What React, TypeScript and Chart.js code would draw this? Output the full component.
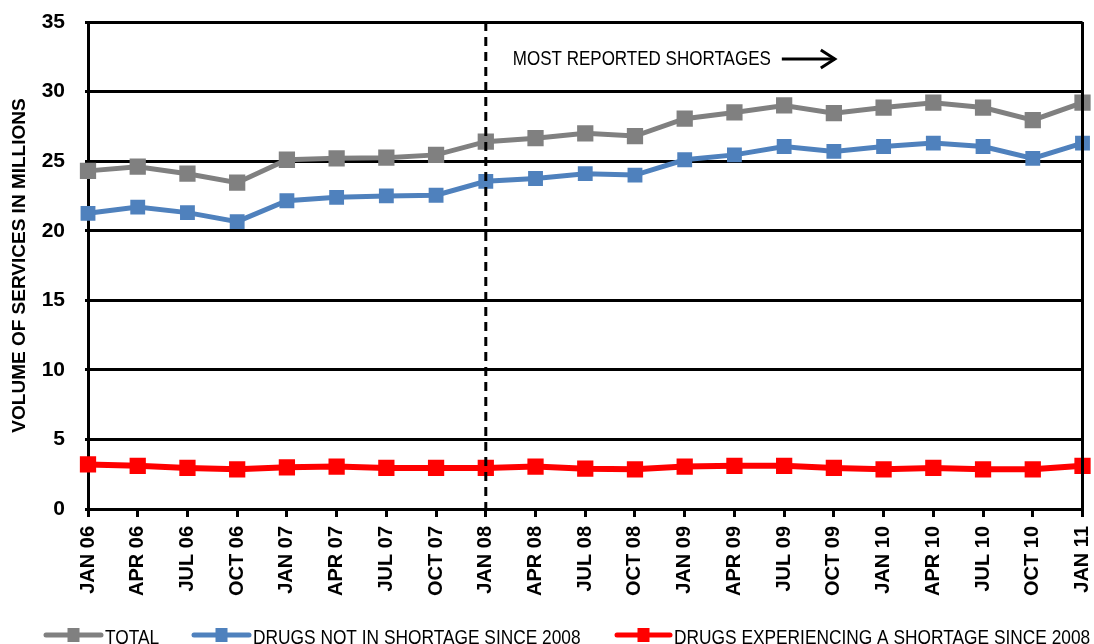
import React, { useEffect, useRef } from "react";
import { Chart, registerables } from "chart.js";

Chart.register(...registerables);

const categories = [
  "JAN 06", "APR 06", "JUL 06", "OCT 06",
  "JAN 07", "APR 07", "JUL 07", "OCT 07",
  "JAN 08", "APR 08", "JUL 08", "OCT 08",
  "JAN 09", "APR 09", "JUL 09", "OCT 09",
  "JAN 10", "APR 10", "JUL 10", "OCT 10",
  "JAN 11",
];

const totalValues = [
  24.3, 24.6, 24.1, 23.45,
  25.1, 25.2, 25.25, 25.45,
  26.4, 26.65, 27.0, 26.8,
  28.05, 28.5, 29.0, 28.45,
  28.85, 29.2, 28.85, 27.95,
  29.2,
];

const notShortageValues = [
  21.25, 21.7, 21.3, 20.65,
  22.15, 22.4, 22.5, 22.55,
  23.55, 23.75, 24.1, 24.0,
  25.1, 25.45, 26.05, 25.7,
  26.05, 26.3, 26.05, 25.2,
  26.3,
];

const shortageValues = [
  3.2, 3.1, 2.95, 2.85,
  3.0, 3.05, 2.95, 2.95,
  2.95, 3.05, 2.9, 2.85,
  3.05, 3.1, 3.1, 2.95,
  2.85, 2.95, 2.85, 2.85,
  3.1,
];

const yTicks = [0, 5, 10, 15, 20, 25, 30, 35];

const seriesNames = [
  "TOTAL",
  "DRUGS NOT IN SHORTAGE SINCE 2008",
  "DRUGS EXPERIENCING A SHORTAGE SINCE 2008",
];
const seriesColors = ["#808080", "#4f81bd", "#ff0000"];

const annotationText = "MOST REPORTED SHORTAGES";
const dividerCategory = "JAN 08";
const yTitle = "VOLUME OF SERVICES IN MILLIONS";

const SANS = "'Liberation Sans', Arial, sans-serif";

function narrowText(ctx: any, text: string, x: number, y: number, sx: number) {
  ctx.save();
  ctx.translate(x, y);
  ctx.scale(sx, 1);
  ctx.fillText(text, 0, 0);
  ctx.restore();
  return ctx.measureText(text).width * sx;
}

const overlayPlugin = {
  id: "overlay",
  afterDatasetsDraw(chart: any) {
    const { ctx, chartArea, scales } = chart;
    const x = scales.x.getPixelForValue(categories.indexOf(dividerCategory));
    ctx.save();
    ctx.strokeStyle = "#000";
    ctx.lineWidth = 3;
    ctx.setLineDash([]);
    ctx.beginPath();
    ctx.moveTo(chartArea.right, chartArea.top);
    ctx.lineTo(chartArea.right, chartArea.bottom);
    ctx.stroke();
    ctx.setLineDash([9, 6]);
    ctx.beginPath();
    ctx.moveTo(x, chartArea.top);
    ctx.lineTo(x, chartArea.bottom);
    ctx.stroke();
    ctx.setLineDash([]);
    ctx.fillStyle = "#000";
    ctx.font = `21px ${SANS}`;
    ctx.textBaseline = "middle";
    ctx.textAlign = "left";
    const tx = x + 27;
    const ty = chartArea.top + 37;
    const w = narrowText(ctx, annotationText, tx, ty, 0.81);
    const ax0 = tx + w + 11;
    const ax1 = ax0 + 53;
    ctx.lineWidth = 3;
    ctx.beginPath();
    ctx.moveTo(ax0, ty);
    ctx.lineTo(ax1, ty);
    ctx.stroke();
    ctx.beginPath();
    ctx.moveTo(ax1 - 14, ty - 9);
    ctx.lineTo(ax1, ty);
    ctx.lineTo(ax1 - 14, ty + 9);
    ctx.stroke();
    ctx.restore();
  },
  afterDraw(chart: any) {
    const { ctx } = chart;
    const lines = [
      [46, 101],
      [194, 249],
      [617, 670],
    ];
    const ly = 635;
    ctx.save();
    for (let i = 0; i < 3; i++) {
      const [a, b] = lines[i];
      ctx.strokeStyle = seriesColors[i];
      ctx.fillStyle = seriesColors[i];
      ctx.lineWidth = 5;
      ctx.lineCap = "round";
      ctx.beginPath();
      ctx.moveTo(a, ly);
      ctx.lineTo(b, ly);
      ctx.stroke();
      const m = (a + b) / 2;
      ctx.fillRect(m - 6, ly - 7, 12, 14);
      ctx.fillStyle = "#000";
      ctx.font = `21px ${SANS}`;
      ctx.textAlign = "left";
      ctx.textBaseline = "alphabetic";
      narrowText(ctx, seriesNames[i], b + 4, 644, 0.825);
    }
    ctx.restore();
  },
};

export default function App() {
  const ref = useRef<HTMLCanvasElement | null>(null);
  useEffect(() => {
    document.body.style.margin = "0";
    if (!ref.current) return;
    const mk = (label: string, data: number[], color: string, r: number, bw: number) => ({
      label,
      data,
      borderColor: color,
      backgroundColor: color,
      borderWidth: bw,
      pointStyle: "rect",
      pointRadius: r,
      pointHoverRadius: r,
      pointBorderWidth: 0,
      tension: 0,
      fill: false,
    });
    const chart = new Chart(ref.current, {
      type: "line",
      data: {
        labels: categories,
        datasets: [
          mk(seriesNames[0], totalValues, seriesColors[0], 11.5, 5),
          mk(seriesNames[1], notShortageValues, seriesColors[1], 10.5, 5),
          mk(seriesNames[2], shortageValues, seriesColors[2], 11.5, 6),
        ],
      },
      options: {
        responsive: false,
        animation: false,
        layout: { padding: { top: 22, right: 11, left: 0, bottom: 0 } },
        plugins: { legend: { display: false }, tooltip: { enabled: false } },
        scales: {
          x: {
            grid: {
              display: true,
              drawOnChartArea: false,
              drawTicks: true,
              tickLength: 8,
              color: "#000",
              lineWidth: 3,
            },
            border: { display: true, color: "#000", width: 3 },
            ticks: {
              color: "#000",
              font: { family: SANS, size: 20, weight: "bold" },
              minRotation: 90,
              maxRotation: 90,
              autoSkip: false,
              padding: 9,
            },
            afterFit: (s: any) => {
              s.height = 135;
              s.paddingLeft = 0;
              s.paddingRight = 0;
            },
          },
          y: {
            min: 0,
            max: 35,
            afterBuildTicks: (s: any) => {
              s.ticks = yTicks.map((v) => ({ value: v }));
            },
            ticks: {
              color: "#000",
              font: { family: SANS, size: 21, weight: "bold" },
              padding: 20,
            },
            grid: { color: "#000", lineWidth: 3, tickLength: 3 },
            border: { display: true, color: "#000", width: 3 },
            title: {
              display: true,
              text: yTitle,
              color: "#000",
              font: { family: SANS, size: 19, weight: "bold" },
              padding: { top: 8, bottom: 0 },
            },
            afterFit: (s: any) => {
              s.width = 88;
              s.paddingTop = 0;
              s.paddingBottom = 0;
            },
          },
        },
      },
      plugins: [overlayPlugin],
    } as any);
    return () => chart.destroy();
  }, []);
  return (
    <div style={{ position: "absolute", left: 0, top: 0, width: 1094, height: 644 }}>
      <canvas ref={ref} width={1094} height={644} />
    </div>
  );
}
